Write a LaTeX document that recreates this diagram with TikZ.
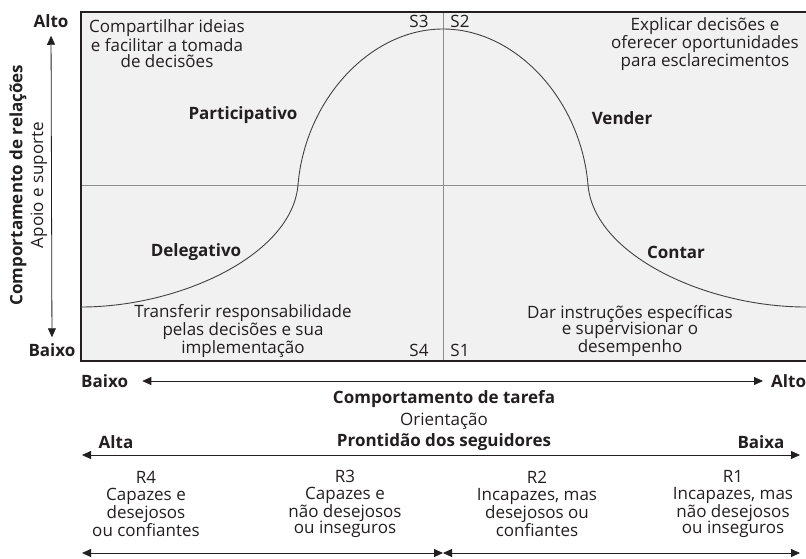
\documentclass[tikz,border=0pt]{standalone}
\usepackage{fontspec}
\setmainfont{Open Sans}
\usepackage{xcolor}
\usetikzlibrary{arrows.meta}
\definecolor{boxgrey}{HTML}{F1F1F1}
\definecolor{midgrey}{HTML}{8E8E8E}
\definecolor{ink}{HTML}{231F20}

\begin{document}
\begin{tikzpicture}[x=1pt,y=-1pt]
\tikzstyle{every node}+=[inner sep=0pt,text=ink]
\tikzstyle{txt}=[align=center,font=\fontsize{17}{16.8}\selectfont]
\tikzstyle{hd}=[font=\fontsize{17}{16.8}\selectfont\bfseries]
\tikzstyle{tip}=[ink,line width=0.8pt,{Triangle[length=9pt,width=8pt]}-{Triangle[length=9pt,width=8pt]}]
\useasboundingbox (0,0) rectangle (806,558);
\fill [boxgrey] (81,12) rectangle (806,361);
\draw [midgrey,line width=0.9pt] (81,185) -- (806,185);
\draw [midgrey,line width=0.9pt] (443,12) -- (443,361);
\draw [ink,line width=1.1pt] (806,12) -- (81,12) -- (81,361) -- (806,361);
\draw [ink!85,line width=0.9pt] (81,307) .. controls (180,307) and (292,255) .. (298,185)
  .. controls (305,100) and (370,29) .. (443,29)
  .. controls (516,29) and (581,100) .. (588,185)
  .. controls (594,255) and (706,307) .. (806,307);
\node [txt] (share) at (167,44) {Compartilhar ideias\\e facilitar a tomada\\de decisões};
\node [txt] (explain) at (705,44) {Explicar decisões e\\oferecer oportunidades\\para esclarecimentos};
\node [txt] (transfer) at (243,331) {Transferir responsabilidade\\pelas decisões e sua\\implementação};
\node [txt] (instruct) at (630,331) {Dar instruções específicas\\e supervisionar o\\desempenho};
\node [hd] (partic) at (243,115) {Participativo};
\node [hd] (sell) at (622,118) {Vender};
\node [hd] (deleg) at (196,252) {Delegativo};
\node [hd] (tell) at (676,252) {Contar};
\node [txt] (s3) at (419,21) {S3};
\node [txt] (s2) at (460,21) {S2};
\node [txt] (s4) at (419,350) {S4};
\node [txt] (s1) at (460,350) {S1};
\node [hd,inner sep=8pt] (altoR) at (51,21) {Alto};
\node [hd,inner sep=6pt] (baixoR) at (52,350) {Baixo};
\draw [tip] (altoR) -- (baixoR);
\node [hd,rotate=90] (relations) at (18,185) {Comportamento de relações};
\node [txt,rotate=90] (support) at (39,185) {Apoio e suporte};
\node [hd,anchor=west] (baixoT) at (81,381) {Baixo};
\node [hd,anchor=west] (altoT) at (771,381) {Alto};
\draw [tip] ([xshift=14pt]baixoT.east) -- ([xshift=-8pt]altoT.west);
\node [hd] (task) at (444,399) {Comportamento de tarefa};
\node [txt] (orient) at (444,421) {Orientação};
\node [hd] (ready) at (444,442) {Prontidão dos seguidores};
\node [hd] (alta) at (116,442) {Alta};
\node [hd] (baixa) at (761,442) {Baixa};
\coordinate (readyL) at (82,455);
\coordinate (readyR) at (800,455);
\draw [tip] (readyL) -- (readyR);
\node [txt] (r4) at (146,504) {R4\\Capazes e\\desejosos\\ou confiantes};
\node [txt] (r3) at (345,504) {R3\\Capazes e\\não desejosos\\ou inseguros};
\node [txt] (r2) at (537,504) {R2\\Incapazes, mas\\desejosos ou\\confiantes};
\node [txt] (r1) at (733,504) {R1\\Incapazes, mas\\não desejosos\\ou inseguros};
\coordinate (spanL) at (82,553);
\coordinate (spanM) at (443,553);
\coordinate (spanR) at (800,553);
\draw [tip] (spanL) -- (spanM);
\draw [tip] (spanM) -- (spanR);
\end{tikzpicture}
\end{document}
